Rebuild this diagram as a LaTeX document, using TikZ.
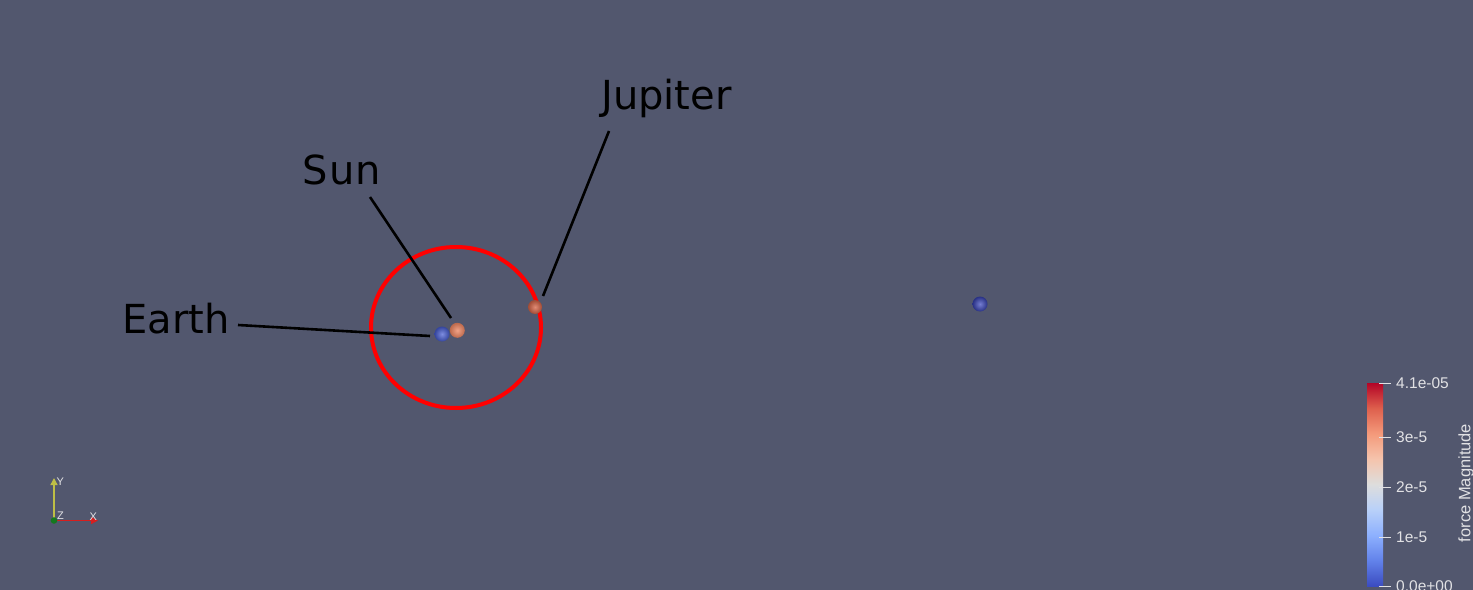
\documentclass[tikz,border=0pt]{standalone}
\usepackage{fontspec}
\setmainfont{DejaVu Sans}
\newfontfamily\barfont{Liberation Sans}
\usetikzlibrary{arrows.meta}
\definecolor{bgc}{RGB}{82,87,110}
\definecolor{lblc}{RGB}{225,225,228}
\definecolor{earthc}{RGB}{70,92,210}
\definecolor{sunc}{RGB}{236,132,96}
\definecolor{jupc}{RGB}{214,100,70}
\definecolor{farc}{RGB}{58,70,190}
\definecolor{yaxc}{RGB}{190,190,70}
\definecolor{xaxc}{RGB}{215,30,30}
\definecolor{zaxc}{RGB}{20,120,30}
\pgfdeclareverticalshading{coolwarm}{100bp}{%
 rgb(0bp)=(0.231,0.298,0.753);
 rgb(25bp)=(0.231,0.298,0.753);
 rgb(31.25bp)=(0.384,0.510,0.918);
 rgb(37.5bp)=(0.553,0.690,0.996);
 rgb(43.75bp)=(0.722,0.816,0.976);
 rgb(50bp)=(0.867,0.867,0.867);
 rgb(56.25bp)=(0.961,0.769,0.678);
 rgb(62.5bp)=(0.957,0.604,0.482);
 rgb(68.75bp)=(0.871,0.376,0.302);
 rgb(75bp)=(0.706,0.016,0.149);
 rgb(100bp)=(0.706,0.016,0.149)}
\tikzset{
 bigtext/.style={inner sep=0pt, text=black, font=\fontsize{40bp}{48bp}\selectfont, anchor=base west},
 leader/.style={draw=black, line width=2.6bp},
 planet/.style={circle, inner sep=0pt, minimum size=15bp},
 barlabel/.style={inner sep=0pt, text=lblc, font=\barfont\fontsize{15.5bp}{18bp}\selectfont, anchor=west},
 bartick/.style={draw=lblc, line width=1bp},
 axlabel/.style={inner sep=0pt, text=lblc, font=\barfont\fontsize{11bp}{13bp}\selectfont},
}
\begin{document}
\begin{tikzpicture}[x=1bp,y=-1bp]
\useasboundingbox (0,0) rectangle (1473,590);
\fill[bgc] (0,0) rectangle (1473,590);
% red ring
\draw[red, line width=4bp] (456,327.5) ellipse [x radius=85, y radius=80.5];
% planets
\node[planet, inner color=earthc!70!white, outer color=earthc!75!black] (earth) at (442,334) {};
\node[planet, inner color=sunc!75!white, outer color=sunc!80!black] (sun) at (457.3,330.3) {};
\node[planet, minimum size=14bp, inner color=jupc!75!white, outer color=jupc!75!black] (jupiter) at (535,307) {};
\node[planet, inner color=farc!70!white, outer color=farc!70!black] (far) at (980,304) {};
% labels
\node[bigtext] (earthlbl) at (122,333) {Earth};
\node[bigtext] (sunlbl) at (302.5,184.5) {S\kern1bp u\kern1bp n};
\node[bigtext] (juplbl) at (601,109.5) {Jupiter};
% leader lines
\coordinate (eA) at (238,325);
\coordinate (eB) at (430,336);
\coordinate (sA) at (370,197);
\coordinate (sB) at (451,318);
\coordinate (jA) at (609,131);
\coordinate (jB) at (543,296);
\draw[leader] (eA) -- (eB);
\draw[leader] (sA) -- (sB);
\draw[leader] (jA) -- (jB);
% axes triad
\coordinate (ax0) at (54,520.5);
\coordinate (axY) at (54,478);
\coordinate (axX) at (98,520.5);
\draw[yaxc, line width=1.4bp, -{Triangle[length=7bp,width=7bp]}] (ax0) -- (axY);
\draw[xaxc, line width=1.4bp, -{Triangle[length=7bp,width=7bp]}] (ax0) -- (axX);
\fill[zaxc] (ax0) circle (3.3bp);
\node[axlabel, anchor=west] (ylbl) at (56.5,482) {Y};
\node[axlabel, anchor=west] (zlbl) at (57,516) {Z};
\node[axlabel, anchor=west] (xlbl) at (89.5,517) {X};
% colour bar
\shade[shading=coolwarm] (1367,383) rectangle (1383,586);
\foreach \yy/\txt/\nm in {383/4.1e-05/t0, 437.5/3e-5/t1, 487.5/2e-5/t2, 537/1e-5/t3, 586/0.0e+00/t4}{
  \draw[bartick] (1379,\yy) -- (1391,\yy);
  \node[barlabel] (\nm) at (1396,\yy) {\txt};
}
\node[barlabel, anchor=center, rotate=90, font=\barfont\fontsize{16.5bp}{18bp}\selectfont] (bartitle) at (1466,483) {force Magnitude};
\end{tikzpicture}
\end{document}
